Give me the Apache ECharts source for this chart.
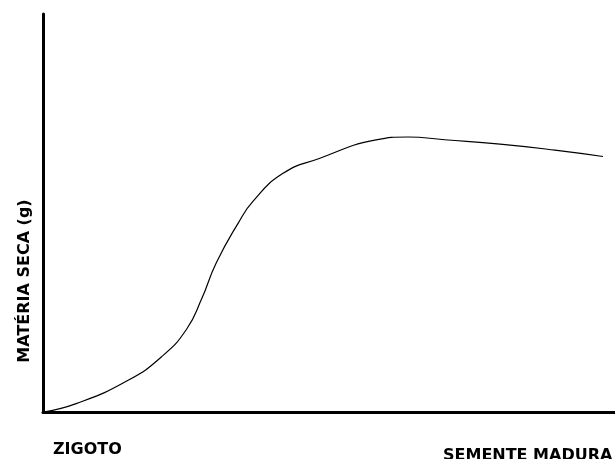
<!DOCTYPE html>
<html>
<head>
<meta charset="utf-8">
<script src="https://cdn.jsdelivr.net/npm/echarts@6/dist/echarts.min.js"></script>
<style>
  html, body { margin: 0; padding: 0; background: #fff; }
  #chart { width: 615px; height: 459px; }
</style>
</head>
<body>
<div id="chart"></div>
<script>
  // tempo de desenvolvimento (escala relativa 0-100)
  var tempo = [0, 5.8, 14.8, 20.9, 25.1, 27.7, 30.3, 34.1, 36.7, 41.9, 48.3, 58.0, 63.8, 70.2, 79.9, 89.5, 97.9];
  // materia seca (escala relativa 0-100)
  var materiaSeca = [0, 2.1, 7.9, 14.1, 20.8, 28.3, 37.5, 47.4, 52.9, 59.9, 63.7, 68.3, 69.1, 68.4, 67.3, 65.8, 64.2];
  var rotuloInicio = 'ZIGOTO';
  var rotuloFim = 'SEMENTE MADURA';
  var rotuloY = 'MATÉRIA SECA (g)';

  var pontos = [];
  for (var i = 0; i < tempo.length; i++) {
    pontos.push([tempo[i], materiaSeca[i]]);
  }

  var myChart = echarts.init(document.getElementById('chart'));
  myChart.setOption({
    animation: false,
    grid: {
      left: 43,
      right: 0,
      top: 14,
      bottom: 47,
      containLabel: false
    },
    xAxis: {
      type: 'value',
      min: 0,
      max: 100,
      axisLine: { show: true, lineStyle: { color: '#000', width: 3 } },
      axisTick: { show: false },
      axisLabel: { show: false },
      splitLine: { show: false }
    },
    yAxis: {
      type: 'value',
      min: 0,
      max: 100,
      axisLine: { show: true, lineStyle: { color: '#000', width: 3 } },
      axisTick: { show: false },
      axisLabel: { show: false },
      splitLine: { show: false }
    },
    graphic: [
      {
        type: 'text',
        left: 53,
        top: 442,
        style: {
          text: rotuloInicio,
          fill: '#000',
          font: 'bold 16px "DejaVu Sans"'
        }
      },
      {
        type: 'text',
        left: 443,
        top: 448,
        style: {
          text: rotuloFim,
          fill: '#000',
          font: 'bold 16px "DejaVu Sans"'
        }
      },
      {
        type: 'text',
        x: 25,
        y: 281,
        rotation: Math.PI / 2,
        style: {
          text: rotuloY,
          fill: '#000',
          font: 'bold 16px "DejaVu Sans"',
          align: 'center',
          verticalAlign: 'middle'
        }
      }
    ],
    series: [
      {
        type: 'line',
        data: pontos,
        smooth: true,
        showSymbol: false,
        lineStyle: { color: '#000', width: 1.2 }
      }
    ]
  });
</script>
</body>
</html>
